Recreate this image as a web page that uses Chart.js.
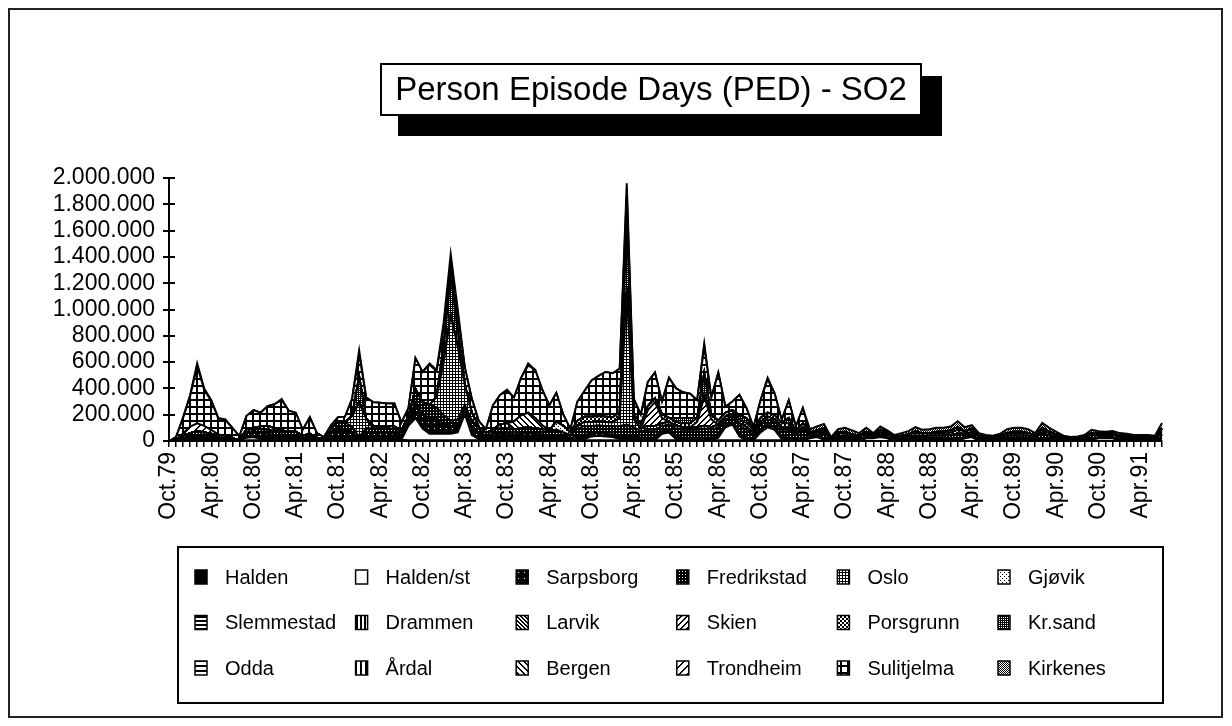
<!DOCTYPE html>
<html>
<head>
<meta charset="utf-8">
<title>Person Episode Days (PED) - SO2</title>
<script src="https://cdn.jsdelivr.net/npm/chart.js@4.4.1/dist/chart.umd.min.js"></script>
<style>
  html, body { margin: 0; padding: 0; background: #fff; }
  #wrap { width: 1232px; height: 726px; }
</style>
</head>
<body>
<div id="wrap"><canvas id="chart" width="1232" height="726"></canvas></div>
<script>
// monthly person episode days, in thousands, Oct.79 .. Jul.91
var titleText = 'Person Episode Days (PED) - SO2';
var monthNames = ['Jan','Feb','Mar','Apr','May','Jun','Jul','Aug','Sep','Oct','Nov','Dec'];
var firstMonth = 9, firstYear = 79, monthCount = 142;
var yTicks = [0, 200000, 400000, 600000, 800000, 1000000, 1200000, 1400000, 1600000, 1800000, 2000000];

var halden = [
  0,0,5,5,5,5,5,5,5,0,0,5,
  5,5,5,5,5,5,5,5,5,0,0,10,
  10,10,10,10,10,10,10,10,10,10,5,5,
  5,5,5,5,5,5,5,5,5,5,5,5,
  5,5,5,5,5,5,5,5,5,5,5,5,
  5,5,5,5,5,5,5,5,5,5,5,5,
  5,5,5,5,5,5,5,5,5,5,5,5,
  5,5,5,5,5,5,5,0,0,0,0,0,
  0,0,0,0,0,0,0,0,0,0,0,0,
  0,0,0,0,0,0,0,0,0,0,0,0,
  0,0,0,0,0,0,0,0,0,0,0,0,
  0,0,0,0,0,0,0,0,0,0];
var haldenSt = [
  0,0,0,0,0,0,0,0,0,0,0,20,
  25,10,0,0,0,0,0,0,0,0,0,0,
  0,0,0,0,0,0,0,0,0,0,110,170,
  90,50,50,50,50,60,200,40,10,0,10,0,
  0,0,0,0,0,0,0,0,0,0,0,10,
  30,35,30,25,10,0,0,0,0,0,50,60,
  10,0,0,0,0,0,20,100,120,30,0,0,
  60,100,80,10,0,0,0,20,30,10,0,0,
  0,0,0,20,20,30,20,0,0,0,0,0,
  0,0,0,0,0,20,30,0,0,0,0,0,
  0,0,0,0,10,0,0,0,0,0,0,10,
  20,20,20,0,0,0,0,0,0,0];
var sarpsborg = [
  0,5,20,30,40,35,30,20,20,10,5,40,
  45,50,50,40,45,40,40,20,30,15,10,60,
  90,80,60,10,50,50,50,50,45,40,40,120,
  110,120,110,80,60,60,40,60,50,30,40,50,
  50,45,50,55,50,45,40,40,30,20,30,30,
  20,20,20,20,30,40,40,20,20,20,20,20,
  20,20,20,20,20,20,20,20,20,20,20,10,
  20,20,20,20,20,10,20,10,10,10,10,10,
  10,10,10,10,10,10,10,10,10,10,10,10,
  10,10,10,10,10,10,10,10,10,10,10,10,
  10,10,10,10,10,10,10,10,10,10,10,10,
  10,10,10,10,10,10,10,10,10,10];
var fredrikstad = [
  0,5,15,25,30,25,20,15,15,10,5,20,
  25,25,30,30,30,25,25,15,20,10,5,30,
  50,50,40,10,40,35,35,35,35,30,30,100,
  90,100,90,60,40,40,30,50,40,25,30,40,
  40,40,40,45,40,40,35,40,30,20,60,70,
  60,60,60,60,70,80,60,50,60,60,40,40,
  60,60,60,60,70,60,60,40,40,60,60,30,
  40,40,40,50,60,30,60,20,25,35,10,25,
  30,25,20,25,10,25,20,15,20,25,30,25,
  30,30,30,35,45,25,25,20,15,15,20,30,
  30,30,30,20,40,30,25,15,10,10,15,25,
  20,15,20,20,20,15,15,15,15,40];
var oslo = [
  0,0,0,0,0,0,0,0,0,0,0,0,
  0,0,0,0,0,0,0,0,0,0,0,0,
  0,0,80,260,70,0,0,0,0,0,0,0,
  0,0,80,400,800,550,150,60,0,0,0,0,
  0,0,0,0,0,0,0,0,0,0,20,30,
  30,30,30,30,60,1000,60,20,30,30,20,20,
  20,20,20,20,20,20,20,20,20,20,20,20,
  20,20,20,20,20,10,20,0,0,0,0,0,
  0,0,0,0,0,0,0,0,0,0,0,0,
  0,0,0,0,0,0,0,0,0,0,0,0,
  0,0,0,0,0,0,0,0,0,0,0,0,
  0,0,0,0,0,0,0,0,0,0];
var gjovik = [
  0,0,0,0,0,0,0,0,0,0,0,0,
  0,0,0,0,0,0,0,0,0,0,0,0,
  0,0,0,0,0,0,0,0,0,0,0,0,
  0,0,0,0,0,0,0,0,0,0,0,0,
  0,0,0,0,0,0,0,60,50,20,0,0,
  0,0,0,0,0,0,0,0,0,0,0,0,
  0,0,0,0,0,0,0,0,0,0,0,0,
  0,0,0,0,0,0,0,0,0,0,0,0,
  0,0,0,0,0,0,0,0,0,0,0,0,
  0,0,0,0,0,0,0,0,0,0,0,0,
  0,0,0,0,0,0,0,0,0,0,0,0,
  0,0,0,0,0,0,0,0,0,0];
var slemmestad = [
  0,0,0,0,0,0,0,0,0,0,0,0,
  0,0,0,0,0,0,0,0,0,0,0,0,
  0,0,0,0,0,0,0,0,0,0,0,0,
  0,0,0,0,0,0,0,0,0,0,0,0,
  0,0,0,0,0,0,0,0,0,0,0,0,
  0,0,0,0,0,0,0,0,0,0,0,0,
  0,0,0,0,0,0,0,0,0,0,0,0,
  0,0,0,0,0,0,0,0,0,0,0,0,
  0,0,0,0,0,0,0,0,0,0,0,0,
  0,0,0,0,0,0,0,0,0,0,0,0,
  0,0,0,0,0,0,0,0,0,0,0,0,
  0,0,0,0,0,0,0,0,0,0];
var drammen = [
  0,0,0,0,0,0,0,0,0,0,0,0,
  0,0,0,0,0,0,0,0,0,0,0,0,
  0,0,0,0,0,20,20,20,20,0,0,0,
  0,0,0,0,0,0,0,0,0,0,0,30,
  40,0,0,0,0,0,0,0,0,0,0,0,
  0,0,0,0,0,0,0,0,0,0,0,0,
  0,0,0,0,0,0,0,0,0,0,0,0,
  0,0,0,0,0,0,0,0,0,0,0,0,
  0,0,0,0,0,0,0,0,0,0,0,0,
  0,0,0,0,0,0,0,0,0,0,0,0,
  0,0,0,0,0,0,0,0,0,0,0,0,
  0,0,0,0,0,0,0,0,0,0];
var larvik = [
  0,0,0,0,0,0,0,0,0,0,0,0,
  0,20,30,20,0,0,0,0,0,0,0,0,
  0,0,0,0,0,0,0,0,0,0,0,0,
  0,0,0,0,0,0,0,0,0,0,0,0,
  0,0,0,0,0,0,0,0,0,0,0,0,
  0,0,0,0,0,0,0,0,0,0,0,0,
  0,0,0,0,0,0,0,0,0,0,0,0,
  0,0,0,0,0,0,0,0,0,0,0,0,
  0,0,0,0,0,0,0,0,0,0,0,0,
  0,0,0,0,0,0,0,0,0,0,0,0,
  0,0,0,0,0,0,0,0,0,0,0,0,
  0,0,0,0,0,0,0,0,0,0];
var skien = [
  0,0,0,0,0,0,0,0,0,0,0,0,
  0,0,0,0,0,0,0,0,0,0,0,0,
  0,0,0,0,0,0,0,0,0,0,0,0,
  0,0,0,0,0,0,0,0,0,0,0,0,
  0,0,0,0,0,0,0,0,0,0,0,0,
  0,0,0,0,0,0,0,0,120,180,40,0,
  0,0,0,40,220,60,0,0,0,0,0,0,
  0,0,0,0,0,0,0,0,0,0,0,0,
  0,0,0,0,0,0,0,0,0,0,0,0,
  0,0,0,0,0,0,0,0,0,0,0,0,
  0,0,0,0,0,0,0,0,0,0,0,0,
  0,0,0,0,0,0,0,0,0,0];
var porsgrunn = [
  0,0,0,0,0,0,0,0,0,0,0,0,
  0,0,0,0,0,0,0,0,0,0,0,0,
  0,0,0,0,0,0,0,0,0,0,0,0,
  0,0,0,0,0,0,0,0,0,0,0,0,
  0,0,0,0,0,0,0,0,0,0,40,40,
  40,40,40,40,40,50,40,30,30,30,30,30,
  30,30,30,30,30,30,30,30,30,30,30,20,
  30,30,30,30,30,20,30,15,15,20,5,20,
  20,15,10,15,10,20,15,10,10,15,20,20,
  20,20,20,20,30,20,20,10,10,5,10,20,
  20,20,20,10,25,20,15,5,5,5,10,15,
  10,10,10,10,10,10,10,10,5,25];
var krSand = [
  0,0,0,0,0,0,0,0,0,0,0,0,
  0,0,0,0,0,0,0,0,0,0,0,0,
  0,0,0,200,0,0,0,0,0,0,0,0,
  0,0,0,120,300,120,0,0,0,0,0,0,
  0,0,0,0,0,0,0,0,0,0,0,0,
  0,0,0,0,0,500,0,0,0,0,0,0,
  30,40,40,0,150,0,0,0,0,30,40,0,
  0,0,0,0,40,0,0,0,0,20,0,10,
  10,0,0,0,0,0,0,0,0,0,15,0,
  0,10,10,15,20,0,10,0,0,0,0,0,
  10,10,0,0,15,10,0,0,0,0,0,0,
  0,0,0,0,0,0,0,0,0,20];
var odda = [
  0,0,0,0,0,0,0,0,0,0,0,0,
  0,0,0,0,0,0,0,0,0,0,0,0,
  0,0,0,0,0,0,0,0,0,0,0,0,
  0,0,0,0,0,0,0,0,0,0,0,0,
  0,0,0,0,0,0,0,0,0,0,0,0,
  0,0,0,0,0,0,0,0,0,0,0,0,
  0,0,0,0,0,0,0,0,0,0,0,0,
  0,0,0,0,0,0,0,0,0,0,0,0,
  0,0,0,0,0,0,0,0,0,0,0,0,
  0,0,0,0,0,0,0,0,0,0,0,0,
  0,0,0,0,0,0,0,0,0,0,0,0,
  0,0,0,0,0,0,0,0,0,0];
var ardal = [
  0,0,0,0,0,0,0,0,0,0,0,0,
  0,0,0,0,0,0,0,0,0,0,0,0,
  0,0,0,0,0,0,0,0,0,0,0,0,
  0,0,0,0,0,0,0,0,0,0,0,0,
  0,0,0,0,0,0,0,0,0,0,0,0,
  0,0,0,0,0,0,0,0,0,0,0,0,
  0,0,0,0,0,0,0,0,0,0,0,0,
  0,0,0,0,0,0,0,0,0,0,0,0,
  0,0,0,0,0,0,0,0,0,0,0,0,
  0,0,0,0,0,0,0,0,0,0,0,0,
  0,0,0,0,0,0,0,0,0,0,0,0,
  0,0,0,0,0,0,0,0,0,0];
var bergen = [
  0,0,0,0,0,0,0,0,0,0,0,0,
  0,0,0,0,0,0,0,0,0,0,0,0,
  0,0,0,0,0,0,0,0,0,0,0,0,
  0,0,0,0,0,0,0,0,0,0,0,0,
  0,60,100,110,80,30,0,0,0,0,0,0,
  0,0,0,0,0,0,0,0,0,0,0,0,
  0,0,0,0,0,0,0,0,0,0,0,0,
  0,0,0,0,0,0,0,0,0,0,0,0,
  0,0,0,0,0,0,0,0,0,0,0,0,
  0,0,0,0,0,0,0,0,0,0,0,0,
  0,0,0,0,0,0,0,0,0,0,0,0,
  0,0,0,0,0,0,0,0,0,0];
var trondheim = [
  0,0,20,50,60,50,30,10,0,0,0,0,
  0,0,0,0,0,0,0,0,0,0,0,0,
  0,0,0,0,0,0,0,0,0,0,0,0,
  0,0,0,0,0,0,0,0,0,0,0,0,
  0,0,0,0,0,0,0,0,0,0,0,0,
  0,0,0,0,0,0,0,0,0,0,0,0,
  0,0,0,0,0,0,0,0,0,0,0,0,
  0,0,0,0,0,0,0,0,0,0,0,0,
  0,0,0,0,0,0,0,0,0,0,0,0,
  0,0,0,0,0,0,0,0,0,0,0,0,
  0,0,0,0,0,0,0,0,0,0,0,0,
  0,0,0,0,0,0,0,0,0,0];
var sulitjelma = [
  0,20,115,230,435,275,220,120,120,80,25,105,
  135,105,150,185,230,160,145,45,125,35,15,20,
  30,45,130,170,160,180,175,170,175,60,65,235,
  230,305,195,145,105,125,135,105,45,30,185,225,
  245,180,285,360,365,270,190,220,85,25,145,195,
  275,305,340,335,335,205,115,75,185,195,95,305,
  225,195,185,135,205,135,365,45,65,155,75,20,
  135,255,165,25,135,35,115,0,0,0,0,0,
  0,0,0,0,0,0,0,0,0,0,0,0,
  0,0,0,0,0,0,0,0,0,0,0,0,
  0,0,0,0,0,0,0,0,0,0,0,0,
  0,0,0,0,0,0,0,0,0,0];
var kirkenes = [
  0,0,5,10,20,10,5,5,5,0,0,0,
  0,0,0,0,10,0,0,0,0,0,0,0,
  0,0,0,30,0,0,0,0,0,0,0,0,
  0,10,10,40,60,40,0,0,0,0,0,0,
  10,0,0,15,0,0,0,0,0,0,0,0,
  0,0,0,0,0,80,0,0,0,0,0,0,
  0,0,0,0,20,0,0,0,0,0,0,0,
  0,10,0,0,0,0,0,25,30,35,5,25,
  30,30,20,30,10,25,15,10,20,25,30,30,
  30,30,30,30,45,30,25,20,10,10,15,30,
  30,30,30,20,37,30,20,10,5,10,10,25,
  15,15,15,20,15,10,10,10,10,42];

// stacking order, bottom first (also the legend order)
var cities = ['Halden','Halden/st','Sarpsborg','Fredrikstad','Oslo','Gjøvik',
  'Slemmestad','Drammen','Larvik','Skien','Porsgrunn','Kr.sand',
  'Odda','Årdal','Bergen','Trondheim','Sulitjelma','Kirkenes'];
var series = [halden, haldenSt, sarpsborg, fredrikstad, oslo, gjovik,
  slemmestad, drammen, larvik, skien, porsgrunn, krSand,
  odda, ardal, bergen, trondheim, sulitjelma, kirkenes];

var months = [];
for (var k = 0; k < monthCount; k++) {
  var mi = (firstMonth + k) % 12;
  var yr = (firstYear + Math.floor((firstMonth + k) / 12)) % 100;
  months.push(monthNames[mi] + '.' + String(yr).padStart(2, '0'));
}

var canvas = document.getElementById('chart');
var ctx = canvas.getContext('2d');

// black & white hatch fills built pixel by pixel
function makePattern(size, ink) {
  var c = document.createElement('canvas');
  c.width = size; c.height = size;
  var g = c.getContext('2d');
  g.fillStyle = '#fff';
  g.fillRect(0, 0, size, size);
  g.fillStyle = '#000';
  for (var y = 0; y < size; y++) {
    for (var x = 0; x < size; x++) {
      if (ink(x, y)) g.fillRect(x, y, 1, 1);
    }
  }
  return ctx.createPattern(c, 'repeat');
}

var fills = [
  '#000',                                                            // Halden
  '#fff',                                                            // Halden/st
  makePattern(6, function(x, y) { return !(x == 2 && y == 2); }),    // Sarpsborg
  makePattern(3, function(x, y) { return !(x == 1 && y == 1); }),    // Fredrikstad
  makePattern(3, function(x, y) { return x == 2 || y == 2; }),       // Oslo
  makePattern(4, function(x, y) { return (x == 0 && y == 0) || (x == 2 && y == 2); }), // Gjøvik
  makePattern(4, function(x, y) { return y < 2; }),                  // Slemmestad
  makePattern(4, function(x, y) { return x < 2; }),                  // Drammen
  makePattern(4, function(x, y) { return (x - y + 8) % 4 < 2; }),    // Larvik
  makePattern(6, function(x, y) { return (x + y) % 6 < 2; }),        // Skien
  makePattern(4, function(x, y) { return (Math.floor(x / 2) + Math.floor(y / 2)) % 2 == 0; }), // Porsgrunn
  makePattern(4, function(x, y) { return !(x % 2 == 1 && y % 2 == 1); }), // Kr.sand
  makePattern(5, function(x, y) { return y < 2; }),                  // Odda
  makePattern(5, function(x, y) { return x < 2; }),                  // Årdal
  makePattern(6, function(x, y) { return (x - y + 12) % 6 < 2; }),   // Bergen
  makePattern(8, function(x, y) { return (x + y) % 8 < 2; }),        // Trondheim
  makePattern(7, function(x, y) { return x < 2 || y < 2; }),         // Sulitjelma
  makePattern(2, function(x, y) { return (x + y) % 2 == 0; })        // Kirkenes
];

var datasets = series.map(function(values, i) {
  return {
    label: cities[i],
    data: values.map(function(v) { return v * 1000; }),
    backgroundColor: fills[i],
    borderColor: '#000',
    borderWidth: 2,
    fill: i == 0 ? 'origin' : '-1',
    pointRadius: 0,
    tension: 0
  };
});

function dotted(n) {
  return String(n).replace(/\B(?=(\d{3})+(?!\d))/g, '.');
}

var AXIS_FONT = '"Liberation Sans", Arial, sans-serif';

var decorations = {
  id: 'decorations',
  beforeDraw: function(chart) {
    var c = chart.ctx;
    c.save();
    c.fillStyle = '#fff';
    c.fillRect(0, 0, chart.width, chart.height);
    c.strokeStyle = '#222';
    c.lineWidth = 2;
    c.strokeRect(9, 9, 1213, 708);
    // title box with its drop shadow
    c.fillStyle = '#000';
    c.fillRect(398, 76, 544, 60);
    c.fillStyle = '#fff';
    c.fillRect(381, 64, 540, 51);
    c.strokeStyle = '#000';
    c.strokeRect(381, 64, 540, 51);
    c.fillStyle = '#000';
    c.font = '33px ' + AXIS_FONT;
    c.textAlign = 'center';
    c.textBaseline = 'middle';
    c.fillText(titleText, 651, 91);
    c.restore();
  },
  afterDraw: function(chart) {
    var c = chart.ctx;
    var area = chart.chartArea;
    var yScale = chart.scales.y;
    c.save();
    // y ticks also poke into the plot
    c.strokeStyle = '#000';
    c.lineWidth = 2;
    yScale.ticks.forEach(function(t) {
      var py = Math.round(yScale.getPixelForValue(t.value));
      c.beginPath();
      c.moveTo(area.left, py);
      c.lineTo(area.left + 6, py);
      c.stroke();
    });
    // legend box, 6 columns x 3 rows
    c.strokeRect(178, 547, 985, 156);
    c.font = '20px ' + AXIS_FONT;
    c.textAlign = 'left';
    c.textBaseline = 'middle';
    chart.data.datasets.forEach(function(ds, i) {
      var col = i % 6, row = Math.floor(i / 6);
      var sx = 195 + col * 160.6;
      var cy = 577 + row * 45.5;
      c.fillStyle = ds.backgroundColor;
      c.fillRect(sx, cy - 7, 12, 14);
      c.lineWidth = 1.5;
      c.strokeStyle = '#000';
      c.strokeRect(sx, cy - 7, 12, 14);
      c.fillStyle = '#000';
      c.fillText(ds.label, sx + 30, cy + 1);
    });
    c.restore();
  }
};

var chart = new Chart(ctx, {
  type: 'line',
  data: { labels: months, datasets: datasets },
  options: {
    responsive: false,
    animation: false,
    devicePixelRatio: 1,
    layout: { padding: { left: 0, top: 178, right: 70, bottom: 200 } },
    plugins: {
      legend: { display: false },
      title: { display: false },
      tooltip: { enabled: false },
      filler: { propagate: false }
    },
    elements: { line: { borderJoinStyle: 'miter' } },
    scales: {
      x: {
        offset: false,
        border: { color: '#000', width: 2 },
        grid: { drawOnChartArea: false, drawTicks: true, tickLength: 6, color: '#000', lineWidth: 1.5 },
        ticks: {
          autoSkip: false,
          maxRotation: 90,
          minRotation: 90,
          padding: 5,
          color: '#000',
          font: { family: AXIS_FONT, size: 23 },
          callback: function(value, index) {
            return index % 6 == 0 ? months[index] : '';
          }
        },
        afterFit: function(scale) { scale.height = 85; }
      },
      y: {
        stacked: true,
        min: 0,
        max: 2000000,
        border: { color: '#000', width: 2 },
        grid: { drawOnChartArea: false, drawTicks: true, tickLength: 6, color: '#000', lineWidth: 2 },
        afterBuildTicks: function(scale) {
          scale.ticks = yTicks.map(function(v) { return { value: v }; });
        },
        ticks: {
          autoSkip: false,
          padding: 8,
          color: '#000',
          font: { family: AXIS_FONT, size: 23 },
          callback: function(value) { return dotted(value); }
        },
        afterFit: function(scale) { scale.width = 169; }
      }
    }
  },
  plugins: [decorations]
});
</script>
</body>
</html>
